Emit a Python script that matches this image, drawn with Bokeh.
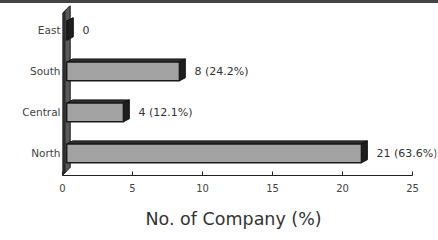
from bokeh.plotting import figure
from bokeh.models import Range1d, FixedTicker, ColumnDataSource, Title, Div
from bokeh.layouts import column
from bokeh.embed import file_html
from bokeh.resources import INLINE
from bokeh.core.properties import value

# ---- data ----
regions = ["North", "Central", "South", "East"]
companies = [21, 4, 8, 0]
shares = ["63.6%", "12.1%", "24.2%", ""]
x_ticks = [0, 5, 10, 15, 20, 25]

labels = [f"{c} ({s})" if s else f"{c}" for c, s in zip(companies, shares)]
ypos = list(range(len(regions)))

W, H = 438, 237
p = figure(width=W, height=H, output_backend="svg", toolbar_location=None,
           x_range=Range1d(0, 26.71), y_range=Range1d(-0.54, 3.61),
           min_border_left=62, min_border_right=2, min_border_top=2, min_border_bottom=65)
p.outline_line_color = None
p.grid.visible = False
p.background_fill_color = "white"

# geometry (data units)
half = 0.23      # half height of bar front face
x0 = 0.3         # front face start
ext = 0.35       # extra beyond value
dx = 0.42        # depth x
dy = 0.075       # depth y

# wall
wall_x = [[0.0, 0.55, 0.55, 0.0]]
wall_y = [[-0.54, -0.54 + 0.2, 3.61, 3.42]]
p.patches(wall_x, wall_y, fill_color="#5a5a5a", line_color="#1a1a1a", line_width=1)
p.patches([[0.0, 0.22, 0.22, 0.0]], [[-0.54, -0.46, 3.5, 3.42]],
          fill_color="#2b2b2b", line_color=None)

front_l, front_r, front_b, front_t = [], [], [], []
top_xs, top_ys, side_xs, side_ys = [], [], [], []
for yv, v in zip(ypos, companies):
    x1 = v + ext
    yb, yt = yv - half, yv + half
    front_l.append(x0); front_r.append(x1); front_b.append(yb); front_t.append(yt)
    top_xs.append([x0, x1, x1 + dx, x0 + dx])
    top_ys.append([yt, yt, yt + dy, yt + dy])
    side_xs.append([x1, x1 + dx, x1 + dx, x1])
    side_ys.append([yb, yb + dy, yt + dy, yt])

src = ColumnDataSource(dict(l=front_l, r=front_r, b=front_b, t=front_t))
p.patches(top_xs, top_ys, fill_color="#303030", line_color="#111111", line_width=1)
p.patches(side_xs, side_ys, fill_color="#1e1e1e", line_color="#111111", line_width=1)
p.quad(left="l", right="r", bottom="b", top="t", source=src,
       fill_color="#a3a3a3", line_color="#1a1a1a", line_width=1.5)

lab_src = ColumnDataSource(dict(x=companies, y=ypos, text=labels))
p.text(x="x", y="y", text="text", source=lab_src, x_offset=20,
       text_font=value("DejaVu Sans"), text_font_size="11px",
       text_color="#333333", text_baseline="middle", text_align="left")

# axes
xa = p.xaxis[0]
xa.ticker = FixedTicker(ticks=x_ticks)
xa.bounds = (0, 25)
xa.axis_line_color = "#222222"
xa.major_tick_in = 4
xa.major_tick_out = 0
xa.minor_tick_line_color = None
xa.major_tick_line_color = "#222222"
xa.major_label_text_font = "DejaVu Sans"
xa.major_label_text_font_size = "10px"
xa.major_label_text_color = "#444444"
xa.major_label_standoff = 8

t = Title(text="No. of Company (%)", align="left", offset=83,
          text_font="DejaVu Sans", text_font_size="17.5px",
          text_font_style="normal", text_color="#333333", standoff=24)
p.add_layout(t, "below")

ya = p.yaxis[0]
ya.ticker = FixedTicker(ticks=ypos)
ya.major_label_overrides = {i: r for i, r in zip(ypos, regions)}
ya.axis_line_color = None
ya.major_tick_line_color = None
ya.minor_tick_line_color = None
ya.major_tick_in = 0
ya.major_tick_out = 0
ya.major_label_text_font = "DejaVu Sans"
ya.major_label_text_font_size = "10.5px"
ya.major_label_text_color = "#444444"
ya.major_label_standoff = 2

band = Div(text="", width=438, height=3, margin=0,
           styles={"background-color": "#444444", "width": "438px", "height": "3px"})

layout = column(band, p, spacing=0)
open("out.html", "w").write(file_html(layout, INLINE))
